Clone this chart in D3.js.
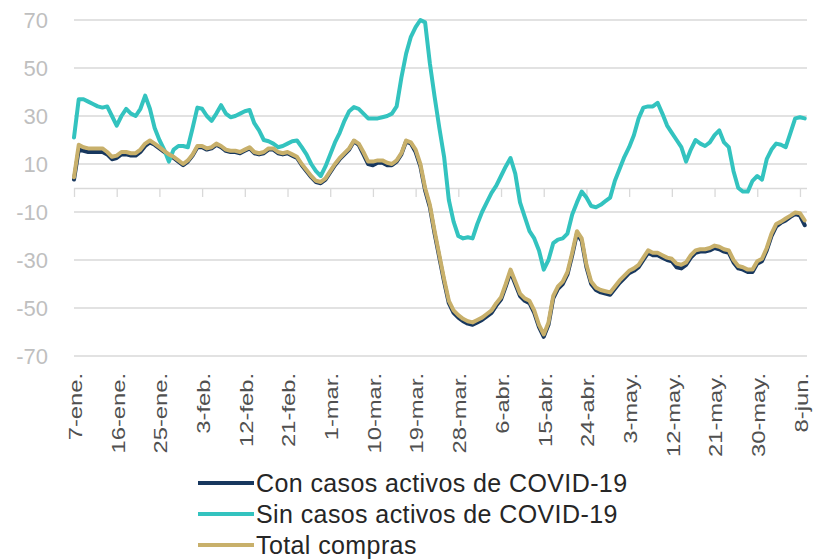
<!DOCTYPE html>
<html>
<head>
<meta charset="utf-8">
<script src="https://cdn.jsdelivr.net/npm/d3@7"></script>
<style>
  body { margin: 0; background: #fff; }
  text { font-family: "Liberation Sans", Arial, sans-serif; }
</style>
</head>
<body>
<div id="chart"></div>
<script>
// daily values, starting 7-ene. 2020
var startDate = new Date(2020, 0, 7);

var conCasos = [3.5, 16, 15.5, 15, 15, 15, 15, 14, 12, 12.5, 14, 14, 13.5, 13.5, 15, 17.5, 19, 18, 16.5, 15,
  13.5, 12.5, 11, 9.5, 11, 13.5, 17, 17, 16, 16.5, 18, 17, 15.5, 15, 15, 14.5, 15.5, 16.5, 14.5, 14,
  14.5, 16, 16, 14.5, 14, 14.5, 13.5, 12.5, 9.5, 7, 4.5, 2.5, 2, 3.5, 6.5, 9.5, 12, 14, 16, 19.5,
  18, 14, 10, 9.5, 10.5, 10.5, 9.5, 9.5, 11, 14, 19.5, 18.5, 15, 9, -1, -8, -19, -29, -39, -48,
  -52, -54, -55.5, -56.5, -57, -56, -55, -53.5, -52, -49, -46.5, -41, -35, -40, -45, -47, -48, -52, -58, -62,
  -57, -46, -42, -40, -36, -28, -19, -22, -33, -40, -42.5, -43.5, -44, -44.5, -42, -39.5, -37.5, -35.5, -34.5, -33,
  -30, -27, -28, -28, -29, -30, -30.5, -33, -33.5, -32, -29, -27, -26.5, -26.5, -26, -25, -25.5, -26.5, -27, -31,
  -33.5, -34, -35, -35, -31.5, -30.5, -26, -20, -16, -14.5, -13.5, -12, -10.8, -11.5, -15.5];

var sinCasos = [21, 37, 37, 36, 35, 34, 33.5, 34, 30, 26, 30, 33, 31, 30, 33, 38.5, 33, 25, 20, 16,
  11, 16, 17.5, 17.5, 17, 25, 33.5, 33, 30, 28, 31, 34.5, 31, 29.5, 30, 31, 32, 32.5, 27, 24,
  20, 19.5, 18.5, 17, 17.5, 18.5, 19.5, 19.8, 17, 14, 10, 7, 5, 9, 14, 19, 23, 28, 32, 33.7,
  33, 31, 29, 29, 29, 29.5, 30, 31, 34, 46, 56, 63, 67, 70, 69, 52, 38, 25, 13, -5,
  -14, -20, -21, -20.5, -21, -15, -10, -6, -2, 1, 5, 9, 12.5, 6, -6, -12, -18, -21, -26, -34,
  -30, -23, -21.5, -21, -19, -11, -6, -1.5, -4, -7.5, -8, -7, -5.5, -4, 3, 8, 13, 17, 22, 29,
  33.5, 34, 34, 35.5, 31, 26, 23, 20, 17, 11, 16, 20, 18.5, 17.5, 19, 22, 24, 19, 17, 7,
  0, -1.5, -1.5, 3, 5, 3.5, 12, 16, 18.5, 18, 17, 23, 29, 29.5, 29];

var totalCompras = [4.5, 18, 17, 16.5, 16.5, 16.5, 16.5, 15, 13, 13.5, 15, 15, 14.5, 14.5, 16, 18.5, 19.8, 18.5, 17, 15.5,
  14, 13, 11.5, 10, 11.5, 14, 17.5, 17.5, 16.5, 17, 18.5, 17.5, 16, 15.5, 15.5, 15, 16, 17, 15, 14.5,
  15, 16.5, 16.5, 15, 14.5, 15, 14, 13, 10, 7.5, 5, 3, 2.5, 4, 7, 10, 12.5, 14.5, 16.5, 19.8,
  18.5, 15, 11, 11, 11.5, 11.5, 10.5, 10, 11.5, 14.5, 19.8, 19, 16, 10, 0, -7, -18, -28, -38, -47,
  -51, -53, -54.5, -55.5, -56, -55, -54, -52.5, -51, -48, -45.5, -40, -34, -39, -44, -46, -47, -51, -57, -61,
  -56, -45, -41, -39, -35, -27, -18, -21, -32, -39, -41.5, -42.5, -43, -43.5, -41, -38.5, -36.5, -34.5, -33.5, -32,
  -29, -26, -27, -27, -28, -29, -29.5, -31.5, -32, -31, -28, -26, -25.5, -25.5, -25, -24, -24.5, -25.5, -26, -30,
  -32.5, -33, -34, -34, -30.5, -29.5, -25, -19, -15, -14, -12.7, -11.5, -10.2, -10.5, -13.5];

var seriesNames = ["Con casos activos de COVID-19", "Sin casos activos de COVID-19", "Total compras"];
var seriesColors = ["#17375e", "#33c3bf", "#c8b06b"];

var yTicks = [70, 50, 30, 10, -10, -30, -50, -70];
var xTickLabels = ["7-ene.", "16-ene.", "25-ene.", "3-feb.", "12-feb.", "21-feb.", "1-mar.", "10-mar.", "19-mar.",
  "28-mar.", "6-abr.", "15-abr.", "24-abr.", "3-may.", "12-may.", "21-may.", "30-may.", "8-jun."];

var width = 815, height = 559;
var svg = d3.select("#chart").append("svg")
  .attr("width", width)
  .attr("height", height);

var dates = conCasos.map(function (v, i) { return d3.timeDay.offset(startDate, i); });

var x = d3.scaleTime()
  .domain([startDate, dates[dates.length - 1]])
  .range([74, 804.7]);

var y = d3.scaleLinear()
  .domain([-70, 70])
  .range([356, 20]);

// gridlines
svg.append("g")
  .selectAll("line")
  .data(yTicks)
  .enter().append("line")
  .attr("x1", 74)
  .attr("x2", 807)
  .attr("y1", function (d) { return y(d); })
  .attr("y2", function (d) { return y(d); })
  .attr("stroke", "#d9d9d9")
  .attr("stroke-width", 1.3);

// y labels
svg.append("g")
  .selectAll("text")
  .data(yTicks)
  .enter().append("text")
  .attr("x", 48)
  .attr("y", function (d) { return y(d); })
  .attr("dy", "0.36em")
  .attr("text-anchor", "end")
  .attr("fill", "#bfbfbf")
  .style("font-size", "22px")
  .text(function (d) { return d; });

// x axis at zero
var tickDates = xTickLabels.map(function (t, i) { return d3.timeDay.offset(startDate, i * 9); });
var xAxis = d3.axisBottom(x)
  .tickValues(tickDates)
  .tickSize(9)
  .tickFormat("");
var gx = svg.append("g")
  .attr("transform", "translate(0," + y(0) + ")")
  .call(xAxis);
gx.select(".domain").attr("d", "M74,0.5H807").attr("stroke", "#d9d9d9").attr("stroke-width", 1.3);
gx.selectAll(".tick line").attr("stroke", "#d9d9d9").attr("stroke-width", 1.3);

// x labels (rotated, stretched along the text like the original)
svg.append("g")
  .selectAll("text")
  .data(xTickLabels)
  .enter().append("text")
  .attr("transform", function (d, i) { return "translate(" + (x(tickDates[i]) + 1) + ",373) rotate(-90) scale(1.25,1)"; })
  .attr("dy", "0.36em")
  .attr("text-anchor", "end")
  .attr("fill", "#505050")
  .style("font-size", "19px")
  .text(function (d) { return d; });

// lines
var line = d3.line()
  .x(function (d, i) { return x(dates[i]); })
  .y(function (d) { return y(d); })
  .curve(d3.curveLinear);

[conCasos, sinCasos, totalCompras].forEach(function (s, i) {
  svg.append("path")
    .datum(s)
    .attr("d", line)
    .attr("fill", "none")
    .attr("stroke", seriesColors[i])
    .attr("stroke-width", 4)
    .attr("stroke-linejoin", "round")
    .attr("stroke-linecap", "round");
});

// legend
var legend = svg.append("g");
seriesNames.forEach(function (name, i) {
  var ly = 483 + i * 31;
  legend.append("line")
    .attr("x1", 198).attr("x2", 254)
    .attr("y1", ly).attr("y2", ly)
    .attr("stroke", seriesColors[i])
    .attr("stroke-width", 4);
  legend.append("text")
    .attr("x", 256)
    .attr("y", ly)
    .attr("dy", "0.36em")
    .attr("fill", "#262626")
    .style("font-size", "25px")
    .style("letter-spacing", "0.4px")
    .text(name);
});
</script>
</body>
</html>
